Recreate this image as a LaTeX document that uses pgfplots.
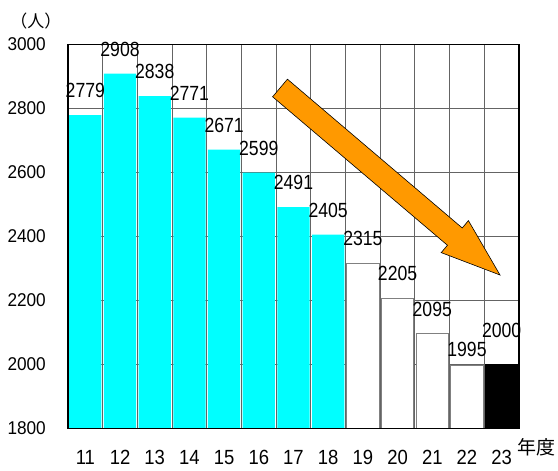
\documentclass[border=0pt]{standalone}
\usepackage{pgfplots}
\pgfplotsset{compat=1.18}
\usepackage{fontspec}
\setmainfont{Liberation Sans}
\newfontfamily\ytfont[FakeStretch=0.93]{Liberation Sans}
\newfontfamily\xtfont[FakeStretch=0.9]{Liberation Sans}
\newfontfamily\labfont[FakeStretch=0.86]{Liberation Sans}
\newfontfamily\cjk{Noto Sans CJK JP}
\definecolor{barcyan}{RGB}{0,255,255}
\definecolor{arroworange}{RGB}{255,153,0}
\definecolor{gridgray}{RGB}{100,100,100}
\pgfplotsset{
  layers/mylayers/.define layer set={axis background,axis grid,main,axis ticks,axis lines,axis tick labels,axis descriptions,axis foreground}{/pgfplots/layers/standard},
}
\begin{document}
\begin{tikzpicture}
\begin{axis}[
  set layers=mylayers,
  at={(0pt,0pt)}, anchor=south west,
  scale only axis, width=451pt, height=384pt,
  clip=false,
  xmin=10.5, xmax=23.5, ymin=1800, ymax=3000,
  xtick={11,...,23}, ytick={1800,2000,...,3000},
  minor xtick={11.5,12.5,...,22.5},
  ymajorgrids, xminorgrids,
  major grid style={draw=gridgray, line width=1pt},
  minor grid style={draw=gridgray, line width=1pt},
  major tick length=0pt, minor tick length=0pt,
  axis line style={line width=1.2pt, black},
  ybar, bar width=0.93,
  /pgf/number format/1000 sep={},
  /pgf/number format/assume math mode=true,
  yticklabel style={font=\ytfont\fontsize{18.5}{20}\selectfont, anchor=east, inner sep=0pt, xshift=-22pt},
  xticklabel style={font=\xtfont\fontsize{20.5}{22}\selectfont, anchor=north, inner sep=0pt, yshift=-21.5pt},
  nodes near coords,
]
\addplot[bar shift=0pt, fill=barcyan, draw=none,
  nodes near coords style={font=\labfont\fontsize{20.5}{22}\selectfont, anchor=south, inner sep=0pt, yshift=17pt, black}]
  coordinates {(11,2779) (12,2908) (13,2838) (14,2771) (15,2671) (16,2599) (17,2491) (18,2405)};
\addplot[bar shift=0pt, fill=white, draw=black!50, line width=1pt,
  nodes near coords style={font=\labfont\fontsize{20.5}{22}\selectfont, anchor=south, inner sep=0pt, yshift=17pt, black}]
  coordinates {(19,2315) (20,2205) (21,2095)};
\addplot[bar shift=0pt, fill=white, draw=black!50, line width=1pt,
  nodes near coords style={font=\labfont\fontsize{20.5}{22}\selectfont, anchor=south, inner sep=0pt, yshift=9pt, black}]
  coordinates {(22,1995)};
\addplot[bar shift=0pt, fill=black, draw=black,
  nodes near coords style={font=\labfont\fontsize{20.5}{22}\selectfont, anchor=south, inner sep=0pt, yshift=26pt, black}]
  coordinates {(23,2000)};
\draw[fill=arroworange, draw=black, line width=0.6pt]
  (axis cs:22.953,2279) -- (axis cs:21.258,2349) -- (axis cs:21.437,2372) --
  (axis cs:16.398,2836) -- (axis cs:16.825,2891) -- (axis cs:21.864,2426) --
  (axis cs:22.042,2449) -- cycle;
\end{axis}
\node[font=\cjk\fontsize{19}{19}\selectfont, anchor=west, inner sep=0pt] at (449pt,-18.7pt) {年度};
\node[font=\cjk\fontsize{17}{17}\selectfont, inner sep=0pt] at (-32pt,407.3pt) {（人）};
\pgfresetboundingbox
\path[use as bounding box] (-68pt,-42.7pt) rectangle (490pt,428.3pt);
\end{tikzpicture}
\end{document}
